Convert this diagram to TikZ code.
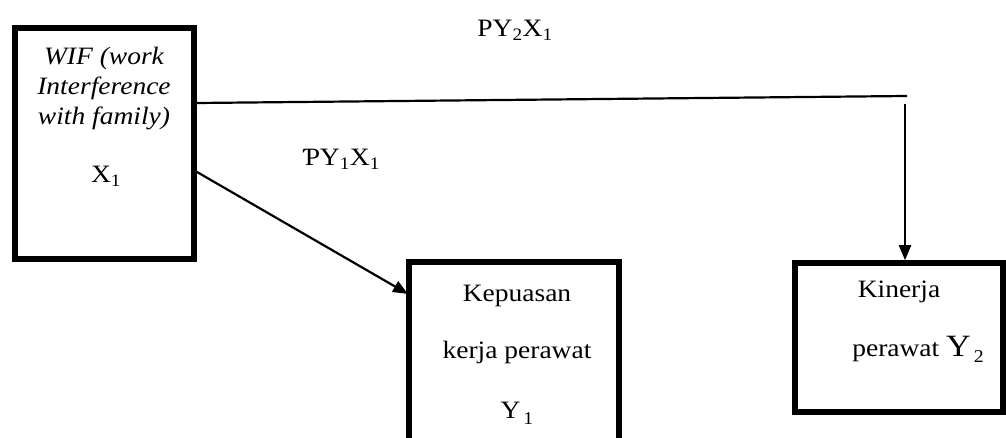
\documentclass[tikz,border=0pt]{standalone}
\usepackage{fontspec}
\setmainfont[FakeStretch=1.1]{Liberation Serif}
\usetikzlibrary{arrows.meta}
\newcommand{\sbt}[1]{\textsubscript{#1}}
\newcommand{\lowsub}[1]{\kern0.12em\raisebox{-0.6ex}{\fontsize{18}{18}\selectfont #1}}
\tikzset{
  varbox/.style={draw, line width=5.5pt, line join=miter, inner sep=0pt},
  label/.style={inner sep=0pt, anchor=base, font=\fontsize{25}{25}\selectfont},
  conn/.style={line width=2.2pt, -{Triangle[length=15pt,width=12pt]}},
}
\begin{document}
\begin{tikzpicture}[x=1pt,y=-1pt]
\useasboundingbox (0,0) rectangle (1006,438);
% variable boxes
\node[varbox, minimum width=179pt, minimum height=231pt] (wif) at (104.5,143.5) {};
\node[varbox, minimum width=210pt, minimum height=200pt] (kep) at (514,362) {};
\node[varbox, minimum width=208pt, minimum height=149pt] (kin) at (899,337.5) {};
% text of the independent variable
\node[label] (w1) at (104,65) {\itshape WIF (work};
\node[label] (w2) at (104,95) {\itshape Interference};
\node[label] (w3) at (104,125) {\itshape with family)};
\node[label] (w4) at (106,183) {X\sbt{1}};
% text of Y1
\node[label] (k1) at (517,301) {Kepuasan};
\node[label] (k2) at (517,358) {kerja perawat};
\node[label] (k3) at (517,418) {Y\lowsub{1}};
% text of Y2
\node[label] (n1) at (899,298) {Kinerja};
\node[label] (n2) at (918,356) {perawat {\fontsize{31}{31}\selectfont Y}\lowsub{2}};
% path coefficients
\node[label] (p2) at (515,37) {PY\sbt{2}X\sbt{1}};
\node[label] (p1) at (341,166) {ƤY\sbt{1}X\sbt{1}};
% connectors
\coordinate (h0) at (197,103);
\coordinate (h1) at (907,96);
\coordinate (v0) at (905,104);
\draw[line width=2.2pt] (h0) -- (h1);
\draw[conn] (v0) -- (kin.north -| v0);
\coordinate (d0) at (197,172);
\draw[conn] (d0) -- (408,294);
\end{tikzpicture}
\end{document}
